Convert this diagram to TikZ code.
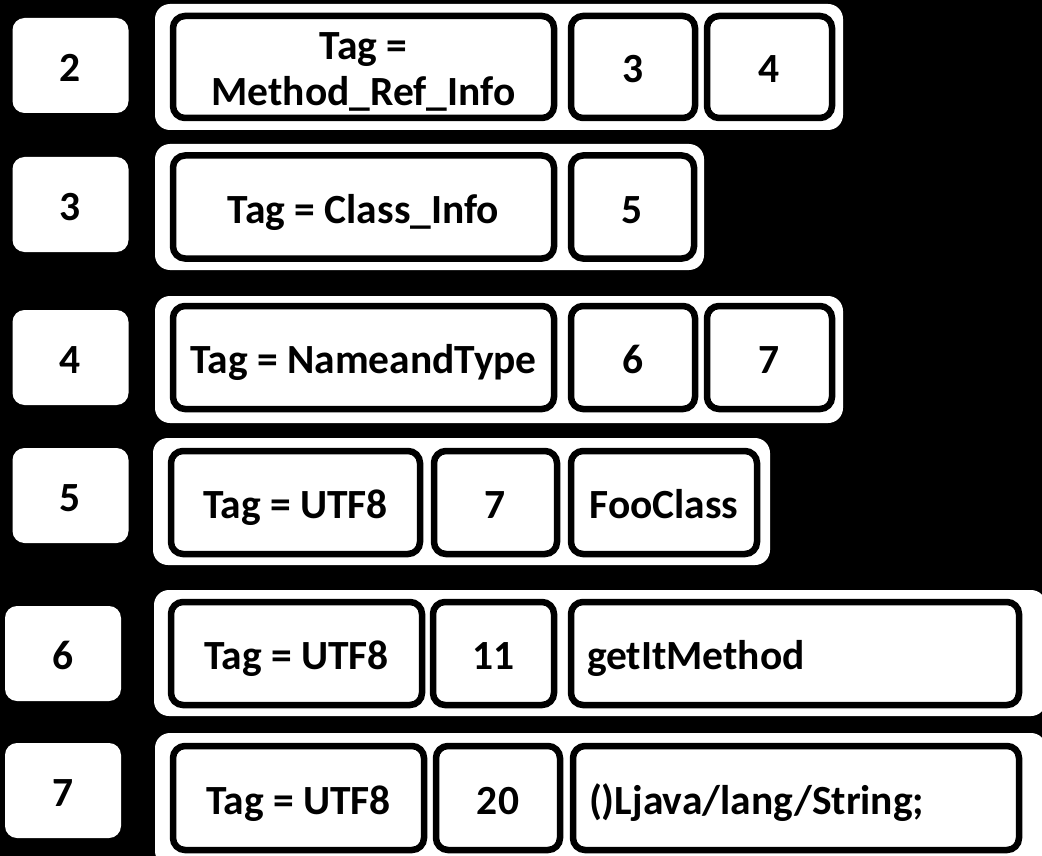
\documentclass[tikz,border=0pt]{standalone}
\usepackage{fontspec}
\setmainfont{Carlito}
\begin{document}
\begin{tikzpicture}[x=1pt,y=-1pt,
  txt/.style={font=\bfseries\fontsize{41.5}{46}\selectfont, text=black},
  fixed/.style={text height=36pt, text depth=4pt},
  idx/.style={txt, fixed, fill=white, rounded corners=12pt, inner sep=0pt, outer sep=0pt, minimum width=116pt, minimum height=95pt},
  cont/.style={fill=white, rounded corners=15pt, inner sep=0pt, outer sep=0pt},
  cell/.style={txt, fixed, fill=white, draw=black, line width=6.5pt, rounded corners=12pt, inner sep=0pt, outer sep=0pt, align=center},
  lcell/.style={cell, align=left, text width=#1, inner xsep=16pt},
]
\fill[black] (0,0) rectangle (1042,856);
\useasboundingbox (0,0) rectangle (1042,856);
\clip (0,0) rectangle (1042,856);

% row 1
\node[idx] (i2) at (70.5,65.5) {2};
\node[cont, minimum width=688pt, minimum height=126pt] (c2) at (499,67) {};
\node[cell, minimum width=381pt, minimum height=102pt] (c2a) at (363.5,67) {};
\node[txt, anchor=base, inner sep=0pt] (c2a1) at (363.5,60) {Tag =};
\node[txt, anchor=base, inner sep=0pt] (c2a2) at (363.5,106) {Method\_Ref\_Info};
\node[cell, minimum width=124pt, minimum height=102pt] (c2b) at (633,67) {3};
\node[cell, minimum width=125pt, minimum height=102pt] (c2c) at (769.5,67) {4};

% row 2
\node[idx] (i3) at (70.5,204.5) {3};
\node[cont, minimum width=549pt, minimum height=126pt] (c3) at (429.5,207) {};
\node[cell, minimum width=381pt, minimum height=103pt] (c3a) at (363.5,207) {Tag = Class\_Info};
\node[cell, minimum width=123pt, minimum height=103pt] (c3b) at (632.5,207) {5};

% row 3
\node[idx] (i4) at (70.5,357.5) {4};
\node[cont, minimum width=688pt, minimum height=127pt] (c4) at (499,359.5) {};
\node[cell, minimum width=381pt, minimum height=103pt] (c4a) at (363.5,357.5) {Tag = NameandType};
\node[cell, minimum width=124pt, minimum height=103pt] (c4b) at (633,357.5) {6};
\node[cell, minimum width=125pt, minimum height=103pt] (c4c) at (769.5,357.5) {7};

% row 4
\node[idx] (i5) at (70.5,495.5) {5};
\node[cont, minimum width=617pt, minimum height=127pt] (c5) at (461.5,501.5) {};
\node[cell, minimum width=249pt, minimum height=103pt] (c5a) at (295.5,502.5) {Tag = UTF8};
\node[cell, minimum width=123pt, minimum height=103pt] (c5b) at (495.5,502.5) {7};
\node[cell, minimum width=186pt, minimum height=103pt] (c5c) at (664,502.5) {FooClass};

% row 5
\node[idx] (i6) at (63,653.5) {6};
\node[cont, minimum width=892pt, minimum height=126pt] (c6) at (600,653) {};
\node[cell, minimum width=251pt, minimum height=103pt] (c6a) at (296.5,653.5) {Tag = UTF8};
\node[cell, minimum width=121pt, minimum height=103pt] (c6b) at (493.5,653.5) {11};
\node[lcell=416pt, minimum width=448pt, minimum height=103pt] (c6c) at (795,653.5) {getItMethod};

% row 6
\node[idx] (i7) at (63,790.5) {7};
\node[cont, minimum width=891pt, minimum height=133pt] (c7) at (600.5,799.5) {};
\node[cell, minimum width=251pt, minimum height=104pt] (c7a) at (298.5,798) {Tag = UTF8};
\node[cell, minimum width=124pt, minimum height=104pt] (c7b) at (498,798) {20};
\node[lcell=414pt, minimum width=446pt, minimum height=104pt] (c7c) at (796,798) {()Ljava/lang/String;};
\end{tikzpicture}
\end{document}
